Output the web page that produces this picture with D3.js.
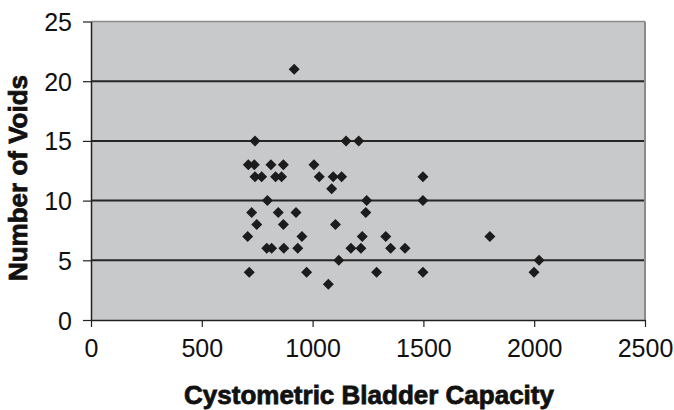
<!DOCTYPE html>
<html>
<head>
<meta charset="utf-8">
<script src="https://cdn.jsdelivr.net/npm/d3@7"></script>
<style>
  body { margin: 0; background: #fff; }
  svg { display: block; font-family: "Liberation Sans", Arial, sans-serif; }
</style>
</head>
<body>
<div id="chart"></div>
<script>
var capacity = [917, 740, 1151, 1208, 710, 737, 812, 868, 1006, 740, 770, 833, 860, 1030, 1093, 1131, 1498,
  1086, 796, 1244, 1498, 725, 845, 925, 1240, 748, 868, 1103, 707, 952, 1224, 1330, 1800,
  793, 815, 870, 933, 1173, 1218, 1352, 1417, 1118, 2022, 714, 973, 1289, 1498, 1999, 1071];
var voids = [21, 15, 15, 15, 13, 13, 13, 13, 13, 12, 12, 12, 12, 12, 12, 12, 12,
  11, 10, 10, 10, 9, 9, 9, 9, 8, 8, 8, 7, 7, 7, 7, 7,
  6, 6, 6, 6, 6, 6, 6, 6, 5, 5, 4, 4, 4, 4, 4, 3];
var xTicks = [0, 500, 1000, 1500, 2000, 2500];
var yTicks = [0, 5, 10, 15, 20, 25];

var width = 674, height = 410;
var margin = {top: 21.5, right: 29, bottom: 90, left: 91};

var svg = d3.select("#chart").append("svg")
  .attr("width", width).attr("height", height);

var x = d3.scaleLinear().domain([0, 2500]).range([margin.left, width - margin.right]);
var y = d3.scaleLinear().domain([0, 25]).range([height - margin.bottom, margin.top]);

// plot area
svg.append("rect")
  .attr("x", x(0)).attr("y", y(25))
  .attr("width", x(2500) - x(0)).attr("height", y(0) - y(25))
  .style("fill", "#c8c9cb");

// gridlines
svg.append("g").selectAll("line")
  .data(yTicks.filter(function (d) { return d > 0 && d < 25; }))
  .enter().append("line")
  .attr("x1", x(0)).attr("x2", x(2500))
  .attr("y1", function (d) { return y(d); }).attr("y2", function (d) { return y(d); })
  .style("stroke", "#262626").style("stroke-width", 2);

// top and right border
svg.append("line")
  .attr("x1", x(0)).attr("x2", x(2500)).attr("y1", y(25)).attr("y2", y(25))
  .style("stroke", "#8c8c8c").style("stroke-width", 1.5);
svg.append("line")
  .attr("x1", x(2500)).attr("x2", x(2500)).attr("y1", y(25)).attr("y2", y(0))
  .style("stroke", "#8c8c8c").style("stroke-width", 2);

// axes
var xAxis = svg.append("g")
  .attr("transform", "translate(0," + y(0) + ")")
  .call(d3.axisBottom(x).tickValues(xTicks).tickFormat(d3.format("d"))
    .tickSize(7).tickSizeOuter(0).tickPadding(10));
var yAxis = svg.append("g")
  .attr("transform", "translate(" + x(0) + ",0)")
  .call(d3.axisLeft(y).tickValues(yTicks).tickFormat(d3.format("d"))
    .tickSize(8).tickSizeOuter(0).tickPadding(11));

[xAxis, yAxis].forEach(function (a) {
  a.select(".domain").style("stroke", "#222").style("stroke-width", 1.5);
  a.selectAll(".tick line").style("stroke", "#222").style("stroke-width", 1.2);
  a.selectAll(".tick text")
    .style("font-size", "25px").style("fill", "#111")
    .style("font-family", "'Liberation Sans', Arial, sans-serif");
});
yAxis.selectAll(".tick text").attr("dy", "0.36em");
xAxis.selectAll(".tick text").attr("dy", "0.78em");

// points as diamonds
var r = 5.5;
svg.append("g").selectAll("path")
  .data(capacity.map(function (c, i) { return [c, voids[i]]; }))
  .enter().append("path")
  .attr("transform", function (d) { return "translate(" + x(d[0]) + "," + y(d[1]) + ")"; })
  .attr("d", "M0," + (-r) + "L" + r + ",0L0," + r + "L" + (-r) + ",0Z")
  .style("fill", "#1c1c1c");

// axis titles
svg.append("text")
  .attr("x", (x(0) + x(2500)) / 2 + 1).attr("y", 404)
  .attr("text-anchor", "middle")
  .style("font-size", "26px").style("font-weight", "bold")
  .style("stroke", "#111").style("stroke-width", 0.8).style("fill", "#111")
  .text("Cystometric Bladder Capacity");

svg.append("text")
  .attr("transform", "translate(27,178) rotate(-90)")
  .attr("text-anchor", "middle")
  .style("font-size", "26px").style("font-weight", "bold")
  .style("stroke", "#111").style("stroke-width", 0.8).style("fill", "#111")
  .text("Number of Voids");
</script>
</body>
</html>
